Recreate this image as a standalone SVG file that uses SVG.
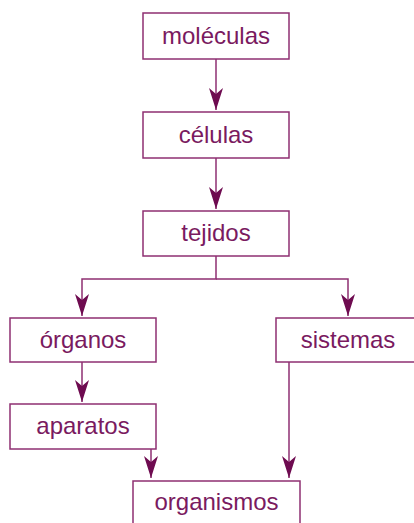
<svg xmlns="http://www.w3.org/2000/svg" width="414" height="523" viewBox="0 0 414 523">
<style>
.box{fill:#fff;stroke:#8e2f72;stroke-width:1.5}
.lbl{font-family:"Liberation Sans",Arial,sans-serif;font-size:24px;fill:#7a1a60;text-anchor:middle}
.ln{fill:none;stroke:#8e2f72;stroke-width:1.5}
</style>
<defs>
<marker id="ah" viewBox="0 0 22 14" markerWidth="22" markerHeight="14" refX="22" refY="7" orient="auto" markerUnits="userSpaceOnUse">
<path d="M0,0 L22,7 L0,14 L6,7 Z" fill="#6e0b50"/>
</marker>
</defs>
<rect width="414" height="523" fill="#fff"/>
<g id="connectors">
<line class="ln" x1="216" y1="59" x2="216" y2="110" marker-end="url(#ah)"/>
<line class="ln" x1="216" y1="158" x2="216" y2="209" marker-end="url(#ah)"/>
<polyline class="ln" points="216,256 216,279 82,279 82,316" marker-end="url(#ah)"/>
<polyline class="ln" points="216,279 348,279 348,316" marker-end="url(#ah)"/>
<line class="ln" x1="82" y1="362" x2="82" y2="402" marker-end="url(#ah)"/>
<line class="ln" x1="151" y1="449" x2="151" y2="478" marker-end="url(#ah)"/>
<line class="ln" x1="289" y1="362" x2="289" y2="478" marker-end="url(#ah)"/>
</g>
<g id="moleculas"><rect class="box" x="143" y="13" width="146" height="46"/><text class="lbl" x="216" y="44">moléculas</text></g>
<g id="celulas"><rect class="box" x="143" y="112" width="146" height="46"/><text class="lbl" x="216" y="143">células</text></g>
<g id="tejidos"><rect class="box" x="143" y="211" width="146" height="45"/><text class="lbl" x="216" y="241">tejidos</text></g>
<g id="organos"><rect class="box" x="10" y="318" width="146" height="44"/><text class="lbl" x="83" y="348">órganos</text></g>
<g id="sistemas"><rect class="box" x="276" y="318" width="146" height="44"/><text class="lbl" x="348" y="348">sistemas</text></g>
<g id="aparatos"><rect class="box" x="10" y="404" width="146" height="45"/><text class="lbl" x="83" y="434">aparatos</text></g>
<g id="organismos"><rect class="box" x="133" y="481" width="167" height="46"/><text class="lbl" x="216.5" y="510">organismos</text></g>
</svg>
